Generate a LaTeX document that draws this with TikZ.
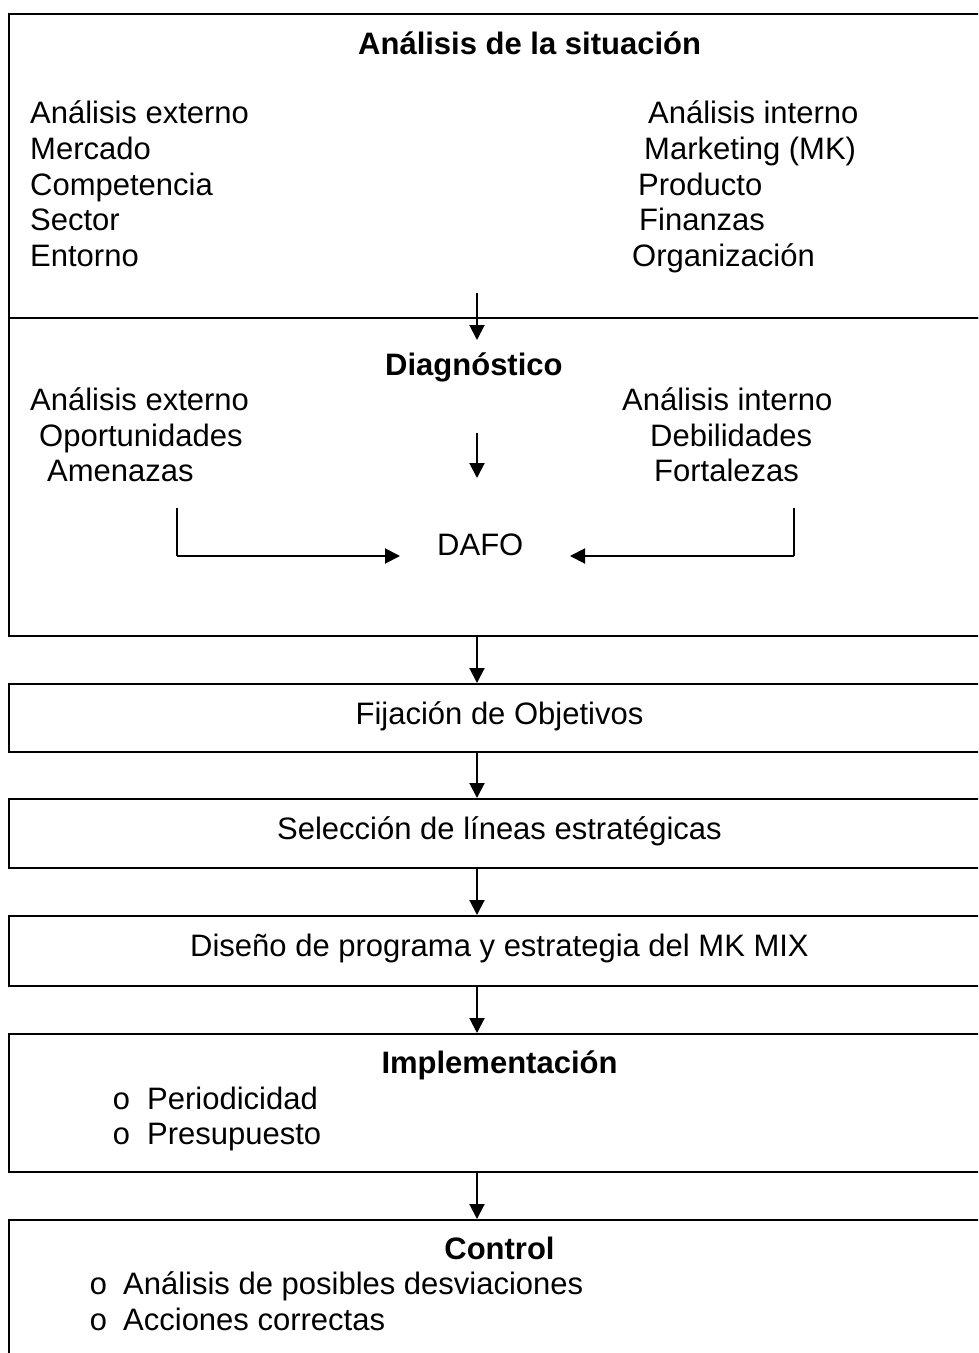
\documentclass[tikz,border=0pt]{standalone}
\usepackage{fontspec}
\setmainfont{Liberation Sans}
\newfontfamily\bulletfont{Liberation Mono}
\usetikzlibrary{arrows.meta}

\begin{document}
\begin{tikzpicture}[x=1pt,y=-1pt,
  every node/.style={font=\fontsize{31}{36}\selectfont},
  panel/.style={draw=black, line width=2pt, minimum width=981pt, inner sep=0pt},
  lbl/.style={anchor=base west, inner sep=0pt},
  blt/.style={anchor=base west, inner sep=0pt, font=\fontsize{31}{36}\bulletfont},
  clbl/.style={anchor=base, inner sep=0pt},
  ttl/.style={anchor=base, inner sep=0pt, font=\fontsize{31}{36}\selectfont\bfseries},
  arr/.style={line width=2pt, -{Triangle[length=15pt,width=15pt]}},
  plain/.style={line width=2pt}]
\useasboundingbox (0,0) rectangle (978,1353);
\clip (0,0) rectangle (978,1353);
\fill[white] (0,0) rectangle (978,1353);

% stacked panels
\node[panel, minimum height=304pt] (b1) at (499.5,166) {};
\node[panel, minimum height=318pt] (b2) at (499.5,477) {};
\node[panel, minimum height=68pt]  (b3) at (499.5,718) {};
\node[panel, minimum height=69pt]  (b4) at (499.5,833.5) {};
\node[panel, minimum height=70pt]  (b5) at (499.5,951) {};
\node[panel, minimum height=138pt] (b6) at (499.5,1103) {};
\node[panel, minimum height=180pt] (b7) at (499.5,1310) {};

% situation analysis
\node[lbl, font=\fontsize{31}{36}\selectfont\bfseries] (t1) at (358,54) {Análisis de la situación};
\node[lbl] (e1) at (30,123) {Análisis externo};
\node[lbl] (e2) at (30,159) {Mercado};
\node[lbl] (e3) at (30,195) {Competencia};
\node[lbl] (e4) at (30,230) {Sector};
\node[lbl] (e5) at (30,266) {Entorno};
\node[lbl] (i1) at (648,123) {Análisis interno};
\node[lbl] (i2) at (644,159) {Marketing (MK)};
\node[lbl] (i3) at (638,195) {Producto};
\node[lbl] (i4) at (639,230) {Finanzas};
\node[lbl] (i5) at (632,266) {Organización};

% diagnosis
\node[lbl, font=\fontsize{31}{36}\selectfont\bfseries] (t2) at (385,375) {Diagnóstico};
\node[lbl] (de1) at (30,410) {Análisis externo};
\node[lbl] (de2) at (39,446) {Oportunidades};
\node[lbl] (de3) at (47,481) {Amenazas};
\node[lbl] (di1) at (622,410) {Análisis interno};
\node[lbl] (di2) at (650,446) {Debilidades};
\node[lbl] (di3) at (654,481) {Fortalezas};
\node[lbl] (dafo) at (437,555) {DAFO};

% single-line steps
\node[clbl] (t3) at (499.5,724) {Fijación de Objetivos};
\node[clbl] (t4) at (499.5,839) {Selección de líneas estratégicas};
\node[clbl] (t5) at (499.5,956) {Diseño de programa y estrategia del MK MIX};

% implementation
\node[ttl] (t6) at (499.5,1073) {Implementación};
\node[blt] (o61) at (112,1109) {o};
\node[lbl] (p61) at (147,1109) {Periodicidad};
\node[blt] (o62) at (112,1144) {o};
\node[lbl] (p62) at (147,1144) {Presupuesto};

% control
\node[ttl] (t7) at (499.5,1259) {Control};
\node[blt] (o71) at (89,1294) {o};
\node[lbl] (p71) at (123,1294) {Análisis de posibles desviaciones};
\node[blt] (o72) at (89,1330) {o};
\node[lbl] (p72) at (123,1330) {Acciones correctas};

% arrow anchors
\coordinate (ax) at (477,0);
\coordinate (a1s) at (477,293);
\coordinate (a1e) at (477,340);
\coordinate (m1s) at (477,433);
\coordinate (m1e) at (477,478);
\coordinate (ls) at (177,508);
\coordinate (lc) at (177,556);
\coordinate (le) at (400,556);
\coordinate (rs) at (794,508);
\coordinate (rc) at (794,556);
\coordinate (re) at (570,556);

\draw[arr] (a1s) -- (a1e);
\draw[arr] (m1s) -- (m1e);
\draw[plain] (ls) -- (lc);
\draw[arr] (lc) -- (le);
\draw[plain] (rs) -- (rc);
\draw[arr] (rc) -- (re);

\draw[arr] (b2.south -| ax) -- (b3.north -| ax);
\draw[arr] (b3.south -| ax) -- (b4.north -| ax);
\draw[arr] (b4.south -| ax) -- (b5.north -| ax);
\draw[arr] (b5.south -| ax) -- (b6.north -| ax);
\draw[arr] (b6.south -| ax) -- (b7.north -| ax);
\end{tikzpicture}
\end{document}
